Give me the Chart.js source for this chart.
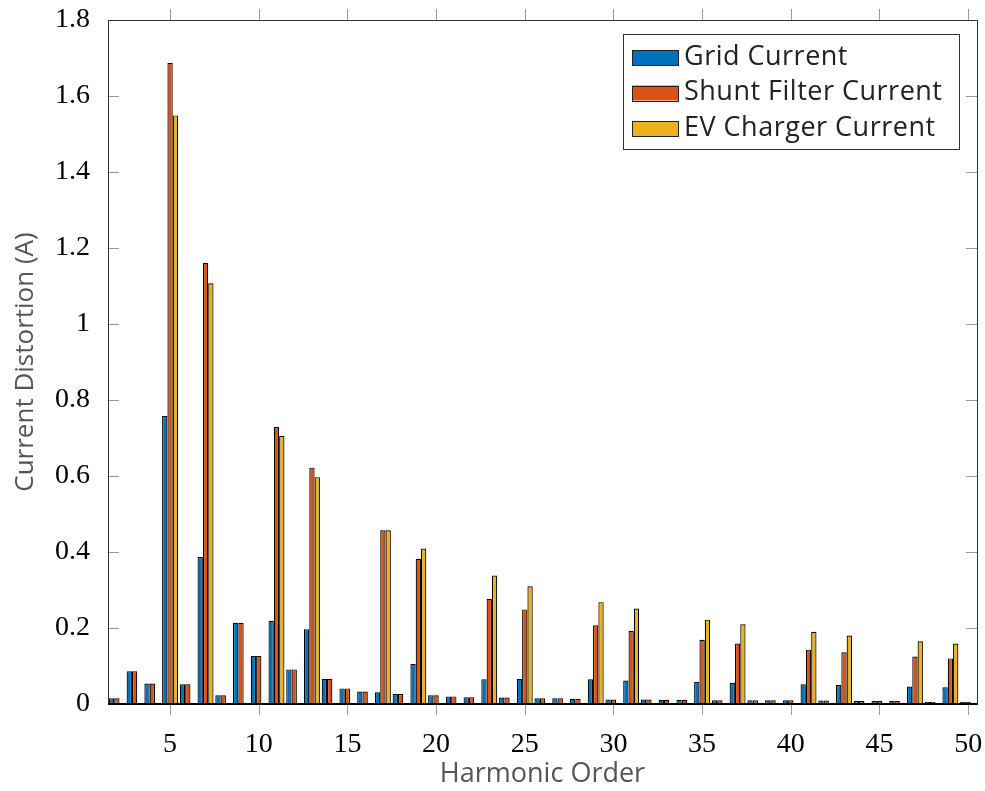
<!DOCTYPE html>
<html lang="en">
<head>
  <meta charset="UTF-8" />
  <title>Harmonic Current Distortion</title>
  <script src="https://cdn.jsdelivr.net/npm/chart.js"></script>
  <style>
    body {
      margin: 0;
      padding: 0;
      background: #fff;
    }

    .chart-container {
      width: 985px;
      height: 791px;
      position: relative;
    }
  </style>
</head>
<body>
  <div class="chart-container">
    <canvas id="harmonicChart"></canvas>
  </div>

  <script>
    // Harmonic orders 2..50
    const harmonics = [2, 3, 4, 5, 6, 7, 8, 9, 10, 11, 12, 13, 14, 15, 16, 17, 18, 19, 20, 21, 22, 23, 24, 25, 26,
      27, 28, 29, 30, 31, 32, 33, 34, 35, 36, 37, 38, 39, 40, 41, 42, 43, 44, 45, 46, 47, 48, 49, 50];

    const gridCurrent = [0.015, 0.086, 0.054, 0.758, 0.052, 0.387, 0.023, 0.214, 0.126, 0.219, 0.091, 0.197, 0.066,
      0.041, 0.033, 0.031, 0.026, 0.105, 0.023, 0.020, 0.018, 0.065, 0.017, 0.066, 0.015,
      0.015, 0.014, 0.065, 0.012, 0.062, 0.012, 0.011, 0.011, 0.058, 0.010, 0.056, 0.010,
      0.010, 0.010, 0.052, 0.009, 0.050, 0.008, 0.008, 0.008, 0.046, 0.006, 0.044, 0.006];

    const shuntCurrent = [0.015, 0.086, 0.054, 1.687, 0.052, 1.161, 0.023, 0.214, 0.126, 0.729, 0.091, 0.622, 0.066,
      0.041, 0.033, 0.457, 0.026, 0.382, 0.023, 0.020, 0.018, 0.277, 0.017, 0.249, 0.015,
      0.015, 0.014, 0.207, 0.012, 0.192, 0.012, 0.011, 0.011, 0.169, 0.010, 0.159, 0.010,
      0.010, 0.010, 0.143, 0.009, 0.136, 0.008, 0.008, 0.008, 0.125, 0.006, 0.120, 0.006];

    const evCurrent = [0, 0, 0, 1.549, 0, 1.107, 0, 0, 0, 0.705, 0, 0.597, 0,
      0, 0, 0.457, 0, 0.409, 0, 0, 0, 0.338, 0, 0.310, 0,
      0, 0, 0.268, 0, 0.251, 0, 0, 0, 0.222, 0, 0.210, 0,
      0, 0, 0.190, 0, 0.180, 0, 0, 0, 0.165, 0, 0.159, 0];

    const seriesLabels = ['Grid Current', 'Shunt Filter Current', 'EV Charger Current'];
    const xTicks = [5, 10, 15, 20, 25, 30, 35, 40, 45, 50];
    const yTicks = [0, 0.2, 0.4, 0.6, 0.8, 1, 1.2, 1.4, 1.6, 1.8];

    const colors = ['#0072BD', '#D95319', '#EDB120'];
    const sansFont = "'Open Sans', sans-serif";
    const serifFont = "'Liberation Serif', serif";

    const toPoints = (vals) => harmonics.map((h, i) => ({ x: h, y: vals[i] }));

    // don't let tick labels push the chart area around
    const noPad = (scale) => {
      scale.paddingTop = 0;
      scale.paddingBottom = 0;
      scale.paddingLeft = 0;
      scale.paddingRight = 0;
    };

    // Frame, inward y ticks, outward x ticks and the boxed legend
    const framePlugin = {
      id: 'frame',
      afterDatasetsDraw(chart) {
        const { ctx, chartArea: a, scales } = chart;
        ctx.save();

        // ticks
        ctx.strokeStyle = '#999';
        ctx.lineWidth = 1;
        ctx.beginPath();
        yTicks.forEach(v => {
          const y = Math.round(scales.y.getPixelForValue(v)) + 0.5;
          ctx.moveTo(a.left, y); ctx.lineTo(a.left + 11, y);
          ctx.moveTo(a.right, y); ctx.lineTo(a.right - 11, y);
        });
        xTicks.forEach(v => {
          const x = Math.round(scales.x.getPixelForValue(v)) + 0.5;
          ctx.moveTo(x, a.bottom); ctx.lineTo(x, a.bottom + 11);
          ctx.moveTo(x, a.top); ctx.lineTo(x, a.top - 11);
        });
        ctx.stroke();

        // box
        ctx.strokeStyle = '#333';
        ctx.lineWidth = 1;
        ctx.strokeRect(Math.round(a.left) + 0.5, Math.round(a.top) + 0.5,
          Math.round(a.right - a.left), Math.round(a.bottom - a.top));
        ctx.strokeStyle = '#000';
        ctx.lineWidth = 2;
        ctx.beginPath();
        ctx.moveTo(a.left, Math.round(a.bottom));
        ctx.lineTo(a.right, Math.round(a.bottom));
        ctx.stroke();

        // legend
        const lx = 623, ly = 34, lw = 336, lh = 115;
        ctx.fillStyle = '#fff';
        ctx.fillRect(lx, ly, lw, lh);
        ctx.strokeStyle = '#333';
        ctx.lineWidth = 1;
        ctx.strokeRect(lx + 0.5, ly + 0.5, lw, lh);
        ctx.font = '27px ' + sansFont;
        ctx.letterSpacing = '0.5px';
        ctx.textBaseline = 'middle';
        ctx.textAlign = 'left';
        chart.data.datasets.forEach((ds, i) => {
          const cy = 57 + i * 35.5;
          ctx.fillStyle = ds.backgroundColor;
          ctx.fillRect(632, cy - 7, 46, 15);
          ctx.strokeStyle = '#222';
          ctx.strokeRect(632.5, Math.round(cy - 7) + 0.5, 46, 15);
          ctx.fillStyle = '#222';
          ctx.fillText(ds.label, 684, cy);
        });

        ctx.restore();
      }
    };

    const ctx = document.getElementById('harmonicChart').getContext('2d');
    const harmonicChart = new Chart(ctx, {
      type: 'bar',
      data: {
        datasets: [
          { label: seriesLabels[0], data: toPoints(gridCurrent), backgroundColor: colors[0] },
          { label: seriesLabels[1], data: toPoints(shuntCurrent), backgroundColor: colors[1] },
          { label: seriesLabels[2], data: toPoints(evCurrent), backgroundColor: colors[2] }
        ]
      },
      options: {
        responsive: true,
        maintainAspectRatio: false,
        animation: false,
        layout: {
          padding: { left: 0, right: 8, top: 20, bottom: 0 }
        },
        datasets: {
          bar: {
            categoryPercentage: 0.9,
            barPercentage: 1.0,
            borderColor: '#000',
            borderWidth: 1.2
          }
        },
        plugins: {
          legend: { display: false },
          tooltip: { enabled: false }
        },
        scales: {
          x: {
            type: 'linear',
            min: 1.5,
            max: 50.5,
            offset: false,
            grid: { display: false },
            border: { display: false },
            afterBuildTicks: (scale) => {
              scale.ticks = xTicks.map(v => ({ value: v }));
            },
            afterFit: (scale) => { scale.height = 87; noPad(scale); },
            ticks: {
              padding: 16,
              maxRotation: 0,
              color: '#000',
              font: { family: serifFont, size: 28 }
            },
            title: {
              display: true,
              text: 'Harmonic Order',
              color: '#555',
              padding: { top: 0, bottom: 0 },
              font: { family: sansFont, size: 27 }
            }
          },
          y: {
            type: 'linear',
            min: 0,
            max: 1.8,
            grid: { display: false },
            border: { display: false },
            afterBuildTicks: (scale) => {
              scale.ticks = yTicks.map(v => ({ value: v }));
            },
            afterFit: (scale) => { scale.width = 108; noPad(scale); },
            ticks: {
              padding: 10,
              color: '#000',
              font: { family: serifFont, size: 28 },
              callback: (v) => String(Number(v.toFixed(1)))
            },
            title: {
              display: true,
              text: 'Current Distortion (A)',
              color: '#555',
              padding: { top: 10, bottom: 0 },
              font: { family: sansFont, size: 26 }
            }
          }
        }
      },
      plugins: [framePlugin]
    });
  </script>
</body>
</html>
